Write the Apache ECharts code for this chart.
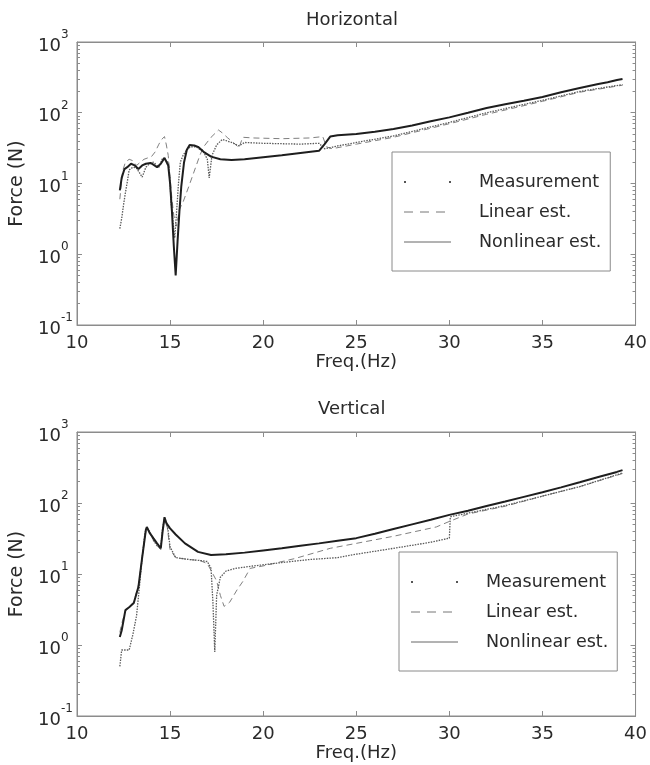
<!DOCTYPE html>
<html><head><meta charset="utf-8">
<script src="https://cdn.jsdelivr.net/npm/echarts@6/dist/echarts.min.js"></script>
<style>html,body{margin:0;padding:0;background:#fff}#c{width:650px;height:765px}</style>
</head><body><div id="c"></div>
<script>
// ---- axis ticks ----
const xTickMin = 10, xTickMax = 40, xTickStep = 5;
const yMin = 0.1, yMax = 1000;
const yMinorTicks = [0.2,0.3,0.4,0.5,0.6,0.7,0.8,0.9, 2,3,4,5,6,7,8,9, 20,30,40,50,60,70,80,90, 200,300,400,500,600,700,800,900];

// ---- Horizontal panel ----
const hMeasF = [12.3,12.4,12.5,12.6,12.7,12.8,13.0,13.2,13.5,13.7,13.9,14.1,14.4,14.6,14.9,15.0,15.05,15.15,15.25,15.35,15.45,15.55,15.7,15.9,16.1,16.4,16.8,17.0,17.1,17.25,17.5,17.8,18.3,18.7,19.0,20,21,22,23,23.3,23.6,24,25,27,30,32,35,37,39.3];
const hMeas  = [2.3,3.2,5,7.4,10.5,15.5,17,16.5,12.3,17,19,20,17,23,20,10.5,5.5,3,1.7,4,10,20,25,30,33,33,28,22,12,25,35,42,38,34,38,37,36.5,36,37,31,32,34,38,47,73,100,150,200,250];

const hLinF = [12.3,12.45,12.6,12.8,13.0,13.2,13.4,13.6,13.8,14.0,14.2,14.4,14.55,14.7,14.8,14.9,15.0,15.1,15.2,15.35,15.5,15.7,16.0,16.3,16.6,16.8,17.2,17.6,17.8,18.1,18.4,18.7,18.9,19.5,21,22.5,23.2,23.4,23.7,25,27,30,32,35,37,39.3];
const hLin  = [6,15,20,22,21,18,20,22,23,24,28,36,42,46,35,25,12,6,3.5,2.5,4.3,5.5,9,15,25,33,45,57,52,44,38,32,45,44,43,44,46,33,31,36,45,70,95,145,195,245];

const hNonF = [12.3,12.4,12.55,12.7,12.9,13.1,13.3,13.5,13.7,13.95,14.1,14.3,14.5,14.7,14.9,15.0,15.1,15.2,15.3,15.4,15.5,15.6,15.75,15.9,16.05,16.3,16.5,16.8,17.2,17.7,18.3,19,20,21,22,23,23.3,23.6,24,25,26,27,28,29,30,31,32,33,34,35,36,37,38,38.5,39,39.3];
const hNon  = [8,12,16,17,19,18,16,18,19,19.5,18.5,17,19,23,18,10,4,1.3,0.5,1.5,4,9,20,30,35,34.5,33,28,24,22,21.5,22,23.5,25,27,29,36,46,48,50,54,59,66,76,86,100,117,132,148,167,195,224,255,270,290,300];

// ---- Vertical panel ----
const vMeasF = [12.3,12.35,12.4,12.5,12.6,12.8,13.0,13.2,13.35,13.5,13.65,13.75,13.9,14.1,14.3,14.5,14.6,14.7,14.85,15.0,15.3,16,16.6,17.0,17.2,17.3,17.4,17.5,17.7,18.0,18.5,19.5,21,22.5,24,25,27,29,30,30.05,31,33,35,37,39.3];
const vMeas  = [0.5,0.65,0.85,0.8,0.85,0.85,1.4,2.6,6.5,17,38,45,40,30,25,24,45,60,50,24,17,16,15.5,15,12,4,0.8,5,9,11,12,13,14.5,16,17,19,23,28,32,64,72,92,125,170,265];

const vLinF = [12.3,12.4,12.6,12.8,13.05,13.3,13.5,13.7,13.75,13.9,14.1,14.3,14.5,14.6,14.7,14.85,15.0,15.3,16,16.6,17.0,17.3,17.5,17.7,17.9,18.2,18.6,18.9,19.3,20,21.7,23.6,25,27,29.3,30,31,33,35,37,39.3];
const vLin  = [1.5,2,3,3.5,4,7,17,40,44,38,30,25,22,42,58,45,22,17,16,15.5,14,10,8,5,3.5,4,6,7.8,12,13,16.5,23,27,34,46,55,70,90,125,170,260];

const vNonF = [12.3,12.4,12.6,12.8,13.05,13.3,13.5,13.7,13.75,13.9,14.1,14.3,14.5,14.6,14.7,14.8,15.0,15.3,15.8,16.5,17.2,18,19,20,21,22,23,24,25,26,27,28,29,30,31,32,33,34,35,36,37,38,39,39.3];
const vNon  = [1.3,1.6,3.1,3.4,3.9,6.6,17,42,46,38,32,27,23,40,63,52,44,36,27,20.5,18.5,19,20,21.5,23,25,27,29.5,32,37,43,50,58,68,78,91,105,122,142,166,196,232,274,290];

const seriesNames = ['Measurement','Linear est.','Nonlinear est.'];
const panelTitles = ['Horizontal','Vertical'];

function pairs(f, v){ return f.map((x,i)=>[x, v[i]]); }

const FONT = 'DejaVu Sans';
const TXT = '#2a2a2a';
const AX = '#8c8c8c';

function xAxis(grid, pos, labels){
  return {
    type:'value', gridIndex:grid, position:pos, min:xTickMin, max:xTickMax, interval:xTickStep,
    axisLine:{show:true, onZero:false, lineStyle:{color:AX, width:1}},
    axisTick:{show:true, inside:true, length:5, lineStyle:{color:AX}},
    axisLabel:{show:labels, color:TXT, fontSize:18, fontFamily:FONT, margin:9},
    splitLine:{show:false},
    name: labels ? 'Freq.(Hz)' : '', nameLocation:'middle', nameGap:27,
    nameTextStyle:{color:TXT, fontSize:18, fontFamily:FONT}
  };
}
function yAxis(grid, pos, labels){
  return {
    type:'log', logBase:10, gridIndex:grid, position:pos, min:yMin, max:yMax,
    axisLine:{show:true, onZero:false, lineStyle:{color:AX, width:1}},
    axisTick:{show:true, inside:true, length:5, lineStyle:{color:AX}},
    axisLabel:{show:labels, align:'left', margin:39, color:TXT, fontFamily:FONT,
      formatter: v => '{b|10}{s|' + Math.round(Math.log10(v)) + '}',
      rich:{ b:{fontSize:18, fontFamily:FONT, color:TXT, padding:[8,0,0,0]},
             s:{fontSize:12, fontFamily:FONT, color:TXT, verticalAlign:'top'} }
    },
    splitLine:{show:false},
    name: labels ? 'Force (N)' : '', nameLocation:'middle', nameGap:50,
    nameTextStyle:{color:TXT, fontSize:19, fontFamily:FONT}
  };
}
function yMinorAxis(grid, pos){
  return {
    type:'log', logBase:10, gridIndex:grid, position:pos, min:yMin, max:yMax,
    axisLine:{show:false},
    axisTick:{show:true, inside:true, length:3, customValues:yMinorTicks, lineStyle:{color:AX}},
    axisLabel:{show:false},
    splitLine:{show:false}
  };
}

function mkSeries(xi, yi, mf, m, lf, l, nf, n){
  return [
    {name:seriesNames[0], type:'line', xAxisIndex:xi, yAxisIndex:yi, data:pairs(mf,m), symbol:'none', smooth:false,
     lineStyle:{color:'#5a5a5a', width:1.3, type:[1.5,1.2]}, itemStyle:{color:'#555'}, z:3},
    {name:seriesNames[1], type:'line', xAxisIndex:xi, yAxisIndex:yi, data:pairs(lf,l), symbol:'none',
     lineStyle:{color:'#808080', width:1, type:[6,4]}, itemStyle:{color:'#777'}, z:2},
    {name:seriesNames[2], type:'line', xAxisIndex:xi, yAxisIndex:yi, data:pairs(nf,n), symbol:'none',
     lineStyle:{color:'#1e1e1e', width:2}, itemStyle:{color:'#1e1e1e'}, z:4}
  ];
}

const hiddenSym = {color:'rgba(0,0,0,0)', borderWidth:0, opacity:0};
function legend(left, top){
  return {
    left:left, top:top, orient:'vertical', itemWidth:47, itemHeight:20, itemGap:12,
    padding:[21,9,20,11], borderColor:'#8a8a8a', borderWidth:1, backgroundColor:'#fff',
    selectedMode:false,
    formatter: n => '{t|' + n + '}',
    textStyle:{color:TXT, fontSize:17.5, fontFamily:FONT, rich:{t:{fontSize:17.5, fontFamily:FONT, color:TXT, padding:[0,0,0,23], lineHeight:20}}},
    data:[
      {name:seriesNames[0], itemStyle:hiddenSym, lineStyle:{color:'#555', width:2, type:[2,43]}},
      {name:seriesNames[1], itemStyle:hiddenSym, lineStyle:{color:'#777', width:1, type:[9,7]}},
      {name:seriesNames[2], itemStyle:hiddenSym, lineStyle:{color:'#666', width:1, type:'solid'}}
    ]
  };
}

const chart = echarts.init(document.getElementById('c'), null, {renderer:'canvas'});
chart.setOption({
  backgroundColor:'#fff',
  animation:false,
  title:[
    {text:panelTitles[0], left:306, top:11, padding:0, textStyle:{color:TXT, fontSize:18, fontWeight:'normal', fontFamily:FONT}},
    {text:panelTitles[1], left:318, top:400, padding:0, textStyle:{color:TXT, fontSize:18, fontWeight:'normal', fontFamily:FONT}}
  ],
  grid:[
    {left:67, right:13, top:42, height:283, show:true, borderColor:AX, borderWidth:1, backgroundColor:'transparent'},
    {left:67, right:13, top:432, height:284, show:true, borderColor:AX, borderWidth:1, backgroundColor:'transparent'}
  ],
  xAxis:[xAxis(0,'bottom',true), xAxis(0,'top',false), xAxis(1,'bottom',true), xAxis(1,'top',false)],
  yAxis:[yAxis(0,'left',true), yAxis(0,'right',false), yAxis(1,'left',true), yAxis(1,'right',false),
         yMinorAxis(0,'left'), yMinorAxis(0,'right'), yMinorAxis(1,'left'), yMinorAxis(1,'right')],
  legend:[legend(392,152), legend(399,552)],
  series:[].concat(
    mkSeries(0,0,hMeasF,hMeas,hLinF,hLin,hNonF,hNon),
    mkSeries(2,2,vMeasF,vMeas,vLinF,vLin,vNonF,vNon)
  )
});
</script></body></html>
